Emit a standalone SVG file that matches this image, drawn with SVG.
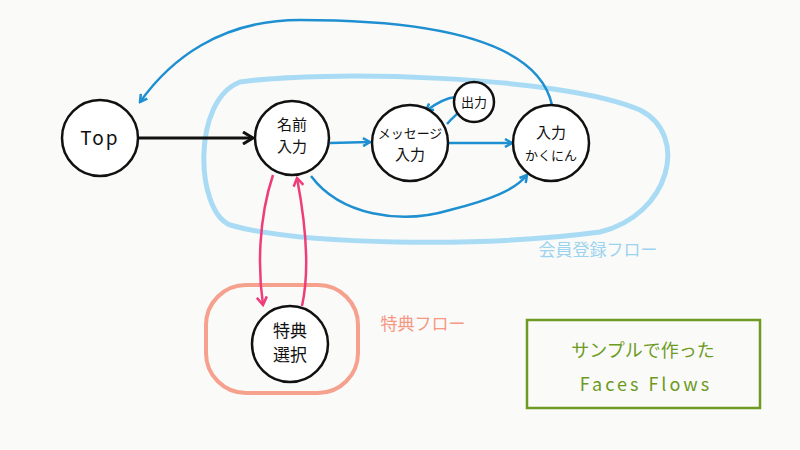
<svg xmlns="http://www.w3.org/2000/svg" width="800" height="450" viewBox="0 0 800 450">
<defs>
<style>
.n{fill:#fff;stroke:#111;stroke-width:2.5}
.t{font-family:"Noto Sans CJK JP","Noto Sans",sans-serif;font-size:15px;fill:#111;text-anchor:middle}
.b{fill:none;stroke:#1e8fd0;stroke-width:2.5}
.p{fill:none;stroke:#ee3d7a;stroke-width:2.5}
</style>
<marker id="ab" markerWidth="10" markerHeight="10" refX="8" refY="5" orient="auto" markerUnits="userSpaceOnUse"><path d="M1,1 L8,5 L1,9" fill="none" stroke="#1e8fd0" stroke-width="2.5"/></marker>
<marker id="ak" markerWidth="14" markerHeight="14" refX="11" refY="7" orient="auto" markerUnits="userSpaceOnUse"><path d="M1,1 L11,7 L1,13" fill="none" stroke="#111" stroke-width="3"/></marker>
<marker id="ap" markerWidth="12" markerHeight="12" refX="9" refY="6" orient="auto" markerUnits="userSpaceOnUse"><path d="M1,1 L9,6 L1,11" fill="none" stroke="#ee3d7a" stroke-width="2.5"/></marker>
</defs>
<rect width="800" height="450" fill="#fafaf9"/>
<path d="M240,82 C320,70 560,75 640,110 C690,135 670,215 600,232 C480,248 300,245 230,225 C195,210 192,100 240,82 Z" fill="none" stroke="#a9dcf4" stroke-width="5"/>
<rect x="206" y="285" width="152" height="108" rx="40" fill="none" stroke="#f6a08e" stroke-width="4"/>
<rect x="527" y="320" width="233" height="88" fill="none" stroke="#6d9a21" stroke-width="2.5"/>
<text x="598" y="256" font-family="Noto Sans CJK JP,sans-serif" font-size="17" fill="#9cd3ef" text-anchor="middle">会員登録フロー</text>
<text x="423" y="330" font-family="Noto Sans CJK JP,sans-serif" font-size="17" fill="#f49882" text-anchor="middle">特典フロー</text>
<text x="643" y="357" font-family="Noto Sans CJK JP,sans-serif" font-size="18" fill="#6d9a21" text-anchor="middle">サンプルで作った</text>
<text x="646" y="391" font-family="Noto Sans CJK JP,sans-serif" font-size="18" fill="#6d9a21" text-anchor="middle" letter-spacing="3">Faces Flows</text>
<g id="connectors">
<path d="M138,138 L253,138" fill="none" stroke="#111" stroke-width="3" marker-end="url(#ak)"/>
<path class="b" d="M330,143 L370,142" marker-end="url(#ab)"/>
<path class="b" d="M448,143 L512,143" marker-end="url(#ab)"/>
<path class="b" d="M447,124 C452,118 455,116 459,112"/>
<path class="b" d="M456,97 C445,98 435,104 426,111" marker-end="url(#ab)"/>
<path class="b" d="M311,176 C340,215 400,225 450,210 C490,200 515,190 527,175" marker-end="url(#ab)"/>
<path class="b" d="M552,105 C540,50 460,20 300,20 C220,20 170,60 140,102" marker-end="url(#ab)"/>
<path class="p" d="M273,175 C258,220 258,270 263,305" marker-end="url(#ap)"/>
<path class="p" d="M302,306 C310,270 305,220 297,178" marker-end="url(#ap)"/>
</g>
<g id="top"><circle class="n" cx="100" cy="138" r="38"/><text class="t" x="100" y="145" style="font-size:19px;letter-spacing:2px">Top</text></g>
<g id="name"><circle class="n" cx="292" cy="138" r="37"/><text class="t" x="292" y="130">名前</text><text class="t" x="292" y="152">入力</text></g>
<g id="msg"><circle class="n" cx="410" cy="143" r="38"/><text class="t" x="410" y="138" style="font-size:13px">メッセージ</text><text class="t" x="410" y="160">入力</text></g>
<g id="out"><circle class="n" cx="474" cy="102" r="20"/><text class="t" x="474" y="107" style="font-size:13px">出力</text></g>
<g id="confirm"><circle class="n" cx="551" cy="143" r="38"/><text class="t" x="551" y="138">入力</text><text class="t" x="551" y="160" style="font-size:13px">かくにん</text></g>
<g id="tokuten"><circle class="n" cx="290" cy="344" r="38"/><text class="t" x="290" y="337" style="font-size:17px">特典</text><text class="t" x="290" y="361" style="font-size:17px">選択</text></g>
</svg>
